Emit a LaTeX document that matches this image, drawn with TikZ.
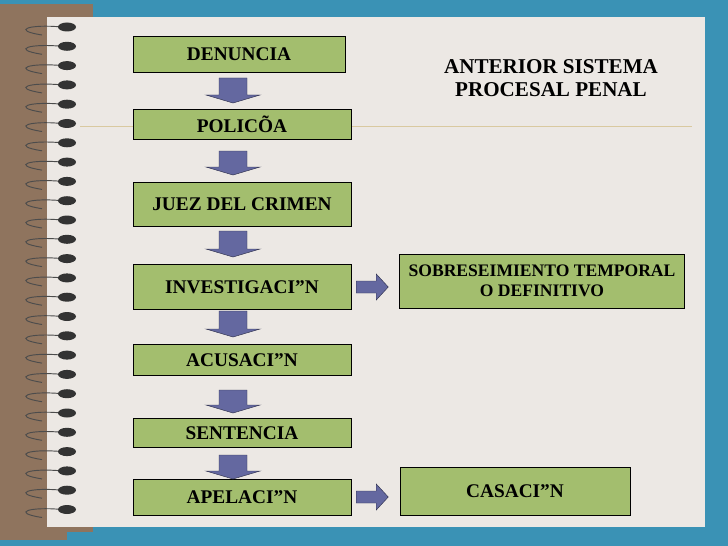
\documentclass[tikz,border=0pt]{standalone}
\usepackage{fontspec}
\setmainfont{Liberation Serif}
\usetikzlibrary{positioning,calc}
\definecolor{bluebg}{HTML}{3A92B5}
\definecolor{brownbg}{HTML}{8F745E}
\definecolor{paper}{HTML}{ECE8E4}
\definecolor{boxgreen}{HTML}{A3BE6E}
\definecolor{arrowblue}{HTML}{6468A0}
\definecolor{rule}{HTML}{D9C9A0}
% block arrow pointing down: x centre, top, bottom
\newcommand{\downblock}[3]{%
  \draw[arrowblue!50!black,fill=arrowblue] (#1-14,#2) -- (#1+14,#2) -- (#1+14,#3-8) -- (#1+27,#3-8)
    -- (#1,#3) -- (#1-27,#3-8) -- (#1-14,#3-8) -- cycle;}

\begin{document}
\begin{tikzpicture}[x=0.3mm,y=-0.3mm,
  box/.style={draw=black,fill=boxgreen,inner sep=0pt,font=\bfseries\fontsize{16.5}{17}\selectfont,align=center},
  ar/.style={draw=arrowblue!50!black,fill=arrowblue}]
  % background
  \fill[bluebg] (0,0) rectangle (728,546);
  \fill[brownbg] (0,4) rectangle (93,532);
  \fill[brownbg] (0,532) rectangle (67,540);
  \fill[paper] (47,17) rectangle (705,527);
  \draw[rule] (80,126) -- (692,126);
  % spiral
  \foreach \k in {0,...,25}{
    \draw[black!70,line width=0.8pt] (62,{27+19.3*\k}) .. controls (30,{24+19.3*\k}) and (10,{30+19.3*\k}) .. (42,{35+19.3*\k});
    \fill[black!80] (67,{27+19.3*\k}) ellipse (9 and 4.5);
  }
  % boxes
  \node[box,minimum width=212*0.3mm,minimum height=36*0.3mm] (den) at (239,54) {DENUNCIA};
  \node[box,minimum width=218*0.3mm,minimum height=30*0.3mm] (pol) at (242,124) {POLICÕA};
  \node[box,minimum width=218*0.3mm,minimum height=44*0.3mm] (juez) at (242,204) {JUEZ DEL CRIMEN};
  \node[box,minimum width=218*0.3mm,minimum height=45*0.3mm] (inv) at (242,287) {INVESTIGACI”N};
  \node[box,minimum width=218*0.3mm,minimum height=31*0.3mm] (acu) at (242,360) {ACUSACI”N};
  \node[box,minimum width=218*0.3mm,minimum height=29*0.3mm] (sen) at (242,433) {SENTENCIA};
  \node[box,minimum width=218*0.3mm,minimum height=36*0.3mm] (ape) at (242,497) {APELACI”N};
  \node[box,font=\bfseries\fontsize{15}{17}\selectfont,minimum width=285*0.3mm,minimum height=54*0.3mm] (sob) at (542,281) {SOBRESEIMIENTO TEMPORAL\\O DEFINITIVO};
  \node[box,minimum width=230*0.3mm,minimum height=48*0.3mm] (cas) at (515,491) {CASACI”N};
  \node[font=\bfseries\fontsize{18}{19}\selectfont,align=center] (title) at (551,78) {ANTERIOR SISTEMA\\PROCESAL PENAL};
  % arrows down
  \downblock{233}{78}{103}
  \downblock{233}{151}{175}
  \downblock{233}{231}{257}
  \downblock{233}{311}{337}
  \downblock{233}{390}{413}
  \downblock{233}{455}{479}
  % arrows right
  \foreach \y/\a/\b in {288/inv/sob, 492/ape/cas}{
    \draw[ar] ($(\a.east)+(5,-6)$) -- ++(20,0) -- ++(0,-7) -- ++(12,13) -- ++(-12,13) -- ++(0,-7) -- ++(-20,0) -- cycle;
  }
\end{tikzpicture}
\end{document}
